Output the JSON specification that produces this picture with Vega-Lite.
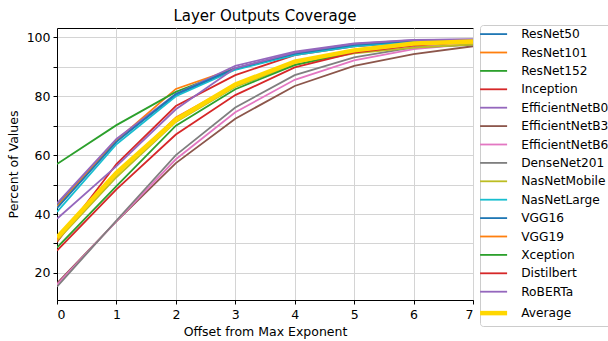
{
  "$schema": "https://vega.github.io/schema/vega-lite/v6.json",
  "autosize": "none",
  "width": 416,
  "height": 272,
  "padding": {"left": 57, "top": 28, "right": 135, "bottom": 41},
  "background": "white",
  "title": {"text": "Layer Outputs Coverage", "font": "DejaVu Sans", "fontSize": 15, "fontWeight": "normal", "color": "black", "offset": 7, "dy": 6, "frame": "group", "anchor": "middle"},
  "config": {
    "view": {"stroke": "black", "strokeWidth": 1},
    "axis": {"labelFont": "DejaVu Sans", "titleFont": "DejaVu Sans", "labelFontSize": 12.5, "titleFontSize": 12.5, "titleFontWeight": "normal", "labelColor": "black", "titleColor": "black", "domainColor": "black", "tickColor": "black", "gridColor": "#d4d4d4", "gridWidth": 1, "gridOpacity": 1}
  },
  "data": {"values": [
    {"model":"ResNet50","offset":0,"pct":43},{"model":"ResNet50","offset":1,"pct":65},{"model":"ResNet50","offset":2,"pct":80.5},{"model":"ResNet50","offset":3,"pct":89.5},{"model":"ResNet50","offset":4,"pct":94.5},{"model":"ResNet50","offset":5,"pct":97.5},{"model":"ResNet50","offset":6,"pct":98.8},{"model":"ResNet50","offset":7,"pct":99.2},
    {"model":"ResNet101","offset":0,"pct":42.5},{"model":"ResNet101","offset":1,"pct":65},{"model":"ResNet101","offset":2,"pct":82.5},{"model":"ResNet101","offset":3,"pct":89.5},{"model":"ResNet101","offset":4,"pct":94.5},{"model":"ResNet101","offset":5,"pct":97.5},{"model":"ResNet101","offset":6,"pct":98.5},{"model":"ResNet101","offset":7,"pct":99},
    {"model":"ResNet152","offset":0,"pct":57},{"model":"ResNet152","offset":1,"pct":70.2},{"model":"ResNet152","offset":2,"pct":81.5},{"model":"ResNet152","offset":3,"pct":89.2},{"model":"ResNet152","offset":4,"pct":94.3},{"model":"ResNet152","offset":5,"pct":97.2},{"model":"ResNet152","offset":6,"pct":98.6},{"model":"ResNet152","offset":7,"pct":99.1},
    {"model":"Inception","offset":0,"pct":30.5},{"model":"Inception","offset":1,"pct":57},{"model":"Inception","offset":2,"pct":76.7},{"model":"Inception","offset":3,"pct":87.2},{"model":"Inception","offset":4,"pct":94},{"model":"Inception","offset":5,"pct":97},{"model":"Inception","offset":6,"pct":98.4},{"model":"Inception","offset":7,"pct":99},
    {"model":"EfficientNetB0","offset":0,"pct":43.6},{"model":"EfficientNetB0","offset":1,"pct":65.5},{"model":"EfficientNetB0","offset":2,"pct":80.8},{"model":"EfficientNetB0","offset":3,"pct":90.3},{"model":"EfficientNetB0","offset":4,"pct":95.2},{"model":"EfficientNetB0","offset":5,"pct":98},{"model":"EfficientNetB0","offset":6,"pct":99.2},{"model":"EfficientNetB0","offset":7,"pct":99.3},
    {"model":"EfficientNetB3","offset":0,"pct":16.5},{"model":"EfficientNetB3","offset":1,"pct":37.5},{"model":"EfficientNetB3","offset":2,"pct":57.3},{"model":"EfficientNetB3","offset":3,"pct":72.4},{"model":"EfficientNetB3","offset":4,"pct":83.5},{"model":"EfficientNetB3","offset":5,"pct":90.3},{"model":"EfficientNetB3","offset":6,"pct":94.3},{"model":"EfficientNetB3","offset":7,"pct":97},
    {"model":"EfficientNetB6","offset":0,"pct":16},{"model":"EfficientNetB6","offset":1,"pct":37.6},{"model":"EfficientNetB6","offset":2,"pct":58.6},{"model":"EfficientNetB6","offset":3,"pct":74.6},{"model":"EfficientNetB6","offset":4,"pct":85.6},{"model":"EfficientNetB6","offset":5,"pct":92.2},{"model":"EfficientNetB6","offset":6,"pct":96},{"model":"EfficientNetB6","offset":7,"pct":97.8},
    {"model":"DenseNet201","offset":0,"pct":15.3},{"model":"DenseNet201","offset":1,"pct":37.8},{"model":"DenseNet201","offset":2,"pct":60},{"model":"DenseNet201","offset":3,"pct":76.2},{"model":"DenseNet201","offset":4,"pct":87.2},{"model":"DenseNet201","offset":5,"pct":93.2},{"model":"DenseNet201","offset":6,"pct":96.6},{"model":"DenseNet201","offset":7,"pct":97.5},
    {"model":"NasNetMobile","offset":0,"pct":31},{"model":"NasNetMobile","offset":1,"pct":52.5},{"model":"NasNetMobile","offset":2,"pct":71.3},{"model":"NasNetMobile","offset":3,"pct":83.2},{"model":"NasNetMobile","offset":4,"pct":90.8},{"model":"NasNetMobile","offset":5,"pct":94.6},{"model":"NasNetMobile","offset":6,"pct":96.5},{"model":"NasNetMobile","offset":7,"pct":97.6},
    {"model":"NasNetLarge","offset":0,"pct":40.7},{"model":"NasNetLarge","offset":1,"pct":63.7},{"model":"NasNetLarge","offset":2,"pct":80},{"model":"NasNetLarge","offset":3,"pct":89},{"model":"NasNetLarge","offset":4,"pct":94},{"model":"NasNetLarge","offset":5,"pct":97},{"model":"NasNetLarge","offset":6,"pct":98.5},{"model":"NasNetLarge","offset":7,"pct":99},
    {"model":"VGG16","offset":0,"pct":42},{"model":"VGG16","offset":1,"pct":64.5},{"model":"VGG16","offset":2,"pct":80.8},{"model":"VGG16","offset":3,"pct":89.5},{"model":"VGG16","offset":4,"pct":94.5},{"model":"VGG16","offset":5,"pct":97.5},{"model":"VGG16","offset":6,"pct":98.8},{"model":"VGG16","offset":7,"pct":99.2},
    {"model":"VGG19","offset":0,"pct":31.5},{"model":"VGG19","offset":1,"pct":53.5},{"model":"VGG19","offset":2,"pct":72.8},{"model":"VGG19","offset":3,"pct":84},{"model":"VGG19","offset":4,"pct":91.5},{"model":"VGG19","offset":5,"pct":95.5},{"model":"VGG19","offset":6,"pct":97.8},{"model":"VGG19","offset":7,"pct":98.6},
    {"model":"Xception","offset":0,"pct":28.6},{"model":"Xception","offset":1,"pct":49.5},{"model":"Xception","offset":2,"pct":70},{"model":"Xception","offset":3,"pct":82.4},{"model":"Xception","offset":4,"pct":90.6},{"model":"Xception","offset":5,"pct":95.2},{"model":"Xception","offset":6,"pct":97.5},{"model":"Xception","offset":7,"pct":98.5},
    {"model":"Distilbert","offset":0,"pct":27.6},{"model":"Distilbert","offset":1,"pct":48.4},{"model":"Distilbert","offset":2,"pct":67},{"model":"Distilbert","offset":3,"pct":80.4},{"model":"Distilbert","offset":4,"pct":89.8},{"model":"Distilbert","offset":5,"pct":94.8},{"model":"Distilbert","offset":6,"pct":97.2},{"model":"Distilbert","offset":7,"pct":98.4},
    {"model":"RoBERTa","offset":0,"pct":38.4},{"model":"RoBERTa","offset":1,"pct":56.3},{"model":"RoBERTa","offset":2,"pct":75.6},{"model":"RoBERTa","offset":3,"pct":89.6},{"model":"RoBERTa","offset":4,"pct":94.8},{"model":"RoBERTa","offset":5,"pct":97.8},{"model":"RoBERTa","offset":6,"pct":99.1},{"model":"RoBERTa","offset":7,"pct":99.3},
    {"model":"Average","offset":0,"pct":32},{"model":"Average","offset":1,"pct":54},{"model":"Average","offset":2,"pct":72},{"model":"Average","offset":3,"pct":84},{"model":"Average","offset":4,"pct":91.8},{"model":"Average","offset":5,"pct":95.6},{"model":"Average","offset":6,"pct":97.9},{"model":"Average","offset":7,"pct":98.6}
  ]},
  "encoding": {
    "x": {"field": "offset", "type": "quantitative", "title": "Offset from Max Exponent", "scale": {"domain": [0, 7], "nice": false, "zero": false}, "axis": {"values": [0,1,2,3,4,5,6,7], "tickSize": 4, "labelPadding": 4, "titlePadding": 5}},
    "y": {"field": "pct", "type": "quantitative", "title": "Percent of Values", "scale": {"domain": [10.8, 103.2], "nice": false, "zero": false}, "axis": {"values": [20,30,40,50,60,70,80,90,100], "labelExpr": "datum.value % 20 == 0 ? datum.label : ''", "tickSize": 4, "labelPadding": 3, "titlePadding": 6}},
    "color": {"field": "model", "type": "nominal", "title": null,
      "scale": {"domain": ["ResNet50","ResNet101","ResNet152","Inception","EfficientNetB0","EfficientNetB3","EfficientNetB6","DenseNet201","NasNetMobile","NasNetLarge","VGG16","VGG19","Xception","Distilbert","RoBERTa","Average"],
                "range": ["#1f77b4","#ff7f0e","#2ca02c","#d62728","#9467bd","#8c564b","#e377c2","#7f7f7f","#bcbd22","#17becf","#1f77b4","#ff7f0e","#2ca02c","#d62728","#9467bd","#ffd700"]},
      "legend": {"orient": "none", "legendX": 423, "legendY": -3, "symbolType": "M-1,0H2", "symbolSize": 324, "labelFont": "DejaVu Sans", "labelFontSize": 12.2, "labelColor": "black", "strokeColor": "#cccccc", "cornerRadius": 3, "padding": 3, "rowPadding": 5.4, "labelOffset": 26, "fillColor": "white",
        "encode": {"symbols": {"enter": {"strokeWidth": {"signal": "datum.label === 'Average' ? 4.5 : 1.8"}}, "update": {"strokeWidth": {"signal": "datum.label === 'Average' ? 4.5 : 1.8"}}}}}}
  },
  "layer": [
    {"transform": [{"filter": "datum.model != 'Average'"}], "mark": {"type": "line", "clip": true, "strokeWidth": 1.8}},
    {"transform": [{"filter": "datum.model == 'Average'"}], "mark": {"type": "line", "clip": true, "strokeWidth": 4.5}}
  ]
}
